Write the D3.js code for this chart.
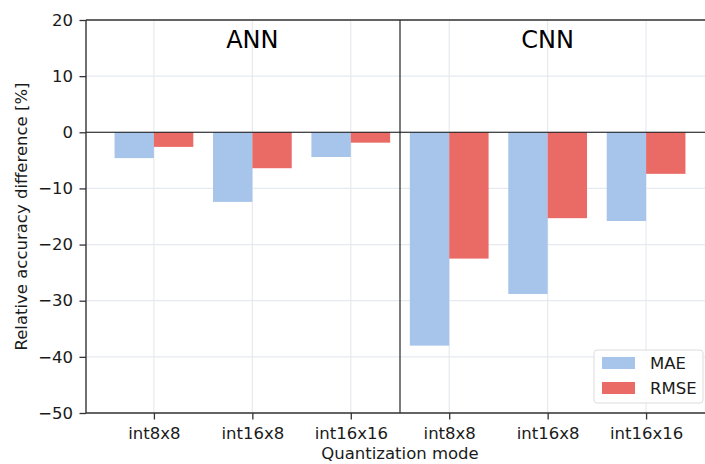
<!DOCTYPE html>
<html>
<head>
<meta charset="utf-8">
<script src="https://cdn.jsdelivr.net/npm/d3@7"></script>
<style>
  html, body { margin: 0; padding: 0; background: #fff; }
  svg { display: block; font-family: "DejaVu Sans", sans-serif; }
</style>
</head>
<body>
<svg id="chart" width="705" height="464"></svg>
<script>
// Quantization modes, one group per network type
const categories = ["int8x8", "int16x8", "int16x16", "int8x8", "int16x8", "int16x16"];
const groups = ["ANN", "CNN"];
const maeValues = [-4.6, -12.4, -4.4, -38.0, -28.8, -15.8];
const rmseValues = [-2.6, -6.4, -1.85, -22.5, -15.3, -7.4];
const yTicks = [20, 10, 0, -10, -20, -30, -40, -50];
const seriesNames = ["MAE", "RMSE"];
const seriesColors = ["#a7c4ea", "#ea6b66"];

const svg = d3.select("#chart");
const plotLeft = 86, plotTop = 20, plotBottom = 413, plotRight = 714;
const fontSize = 16.5;

// Numeric x scale over category positions
const x = d3.scaleLinear().domain([-0.69, 5.69]).range([plotLeft, plotRight]);
const y = d3.scaleLinear().domain([-50, 20]).range([plotBottom, plotTop]);
const barW = 0.4;

const g = svg.append("g");

// grid
g.append("g").selectAll("line").data(yTicks).join("line")
  .attr("x1", plotLeft).attr("x2", plotRight)
  .attr("y1", d => y(d)).attr("y2", d => y(d))
  .attr("stroke", "#e6eaf0").attr("stroke-width", 1.2);
g.append("g").selectAll("line").data(categories).join("line")
  .attr("x1", (d, i) => x(i)).attr("x2", (d, i) => x(i))
  .attr("y1", plotTop).attr("y2", plotBottom)
  .attr("stroke", "#e6eaf0").attr("stroke-width", 1.2);

// bars
const series = [maeValues, rmseValues];
series.forEach((vals, s) => {
  g.append("g").selectAll("rect").data(vals).join("rect")
    .attr("x", (d, i) => x(i + (s === 0 ? -barW : 0)))
    .attr("width", x(barW) - x(0))
    .attr("y", d => y(Math.max(0, d)))
    .attr("height", d => Math.abs(y(d) - y(0)))
    .attr("fill", seriesColors[s]);
});

// zero line and group divider
g.append("line").attr("x1", plotLeft).attr("x2", plotRight)
  .attr("y1", y(0)).attr("y2", y(0))
  .attr("stroke", "#111").attr("stroke-width", 1.1);
g.append("line").attr("x1", x(2.5)).attr("x2", x(2.5))
  .attr("y1", plotTop).attr("y2", plotBottom)
  .attr("stroke", "#111").attr("stroke-width", 1.1);

// group titles
groups.forEach((name, k) => {
  g.append("text").attr("x", x(1 + 3 * k)).attr("y", 48)
    .attr("text-anchor", "middle").attr("font-size", 24).attr("fill", "#000")
    .text(name);
});

// axes
const fmt = d => (d < 0 ? "\u2212" + Math.abs(d) : String(d));
const yAxis = d3.axisLeft(y).tickValues(yTicks).tickFormat(fmt).tickSize(6.5).tickPadding(6.5);
const ya = svg.append("g").attr("transform", `translate(${plotLeft},0)`).call(yAxis);
const xAxis = d3.axisBottom(x).tickValues(d3.range(categories.length))
  .tickFormat(i => categories[i]).tickSize(6.5).tickPadding(7.5);
const xa = svg.append("g").attr("transform", `translate(0,${plotBottom})`).call(xAxis);
[ya, xa].forEach(a => {
  a.select(".domain").remove();
  a.selectAll(".tick line").attr("stroke", "#333").attr("stroke-width", 1.3);
  a.selectAll(".tick text").attr("font-size", fontSize).attr("fill", "#1a1a1a")
    .attr("font-family", "DejaVu Sans, sans-serif");
});

// spines
svg.append("line").attr("x1", plotLeft).attr("x2", plotLeft).attr("y1", plotTop).attr("y2", plotBottom)
  .attr("stroke", "#333").attr("stroke-width", 1.4);
svg.append("line").attr("x1", plotLeft).attr("x2", plotRight).attr("y1", plotBottom).attr("y2", plotBottom)
  .attr("stroke", "#333").attr("stroke-width", 1.4);
svg.append("line").attr("x1", plotLeft).attr("x2", plotRight).attr("y1", plotTop).attr("y2", plotTop)
  .attr("stroke", "#333").attr("stroke-width", 1.4);

// axis titles
svg.append("text").attr("x", 400).attr("y", 459).attr("text-anchor", "middle")
  .attr("font-size", fontSize).attr("fill", "#1a1a1a").text("Quantization mode");
svg.append("text").attr("transform", `translate(27,${(plotTop + plotBottom) / 2}) rotate(-90)`)
  .attr("text-anchor", "middle").attr("font-size", fontSize).attr("fill", "#1a1a1a")
  .text("Relative accuracy difference [%]");

// legend
const lg = svg.append("g").attr("transform", "translate(594,350)");
lg.append("rect").attr("width", 109).attr("height", 53).attr("rx", 3)
  .attr("fill", "rgba(255,255,255,0.85)").attr("stroke", "#dcdcdc").attr("stroke-width", 1);
seriesNames.forEach((n, i) => {
  lg.append("rect").attr("x", 8).attr("y", 7 + i * 25).attr("width", 33).attr("height", 12)
    .attr("fill", seriesColors[i]);
  lg.append("text").attr("x", 56).attr("y", 19 + i * 25).attr("font-size", fontSize)
    .attr("fill", "#1a1a1a").text(n);
});
</script>
</body>
</html>
